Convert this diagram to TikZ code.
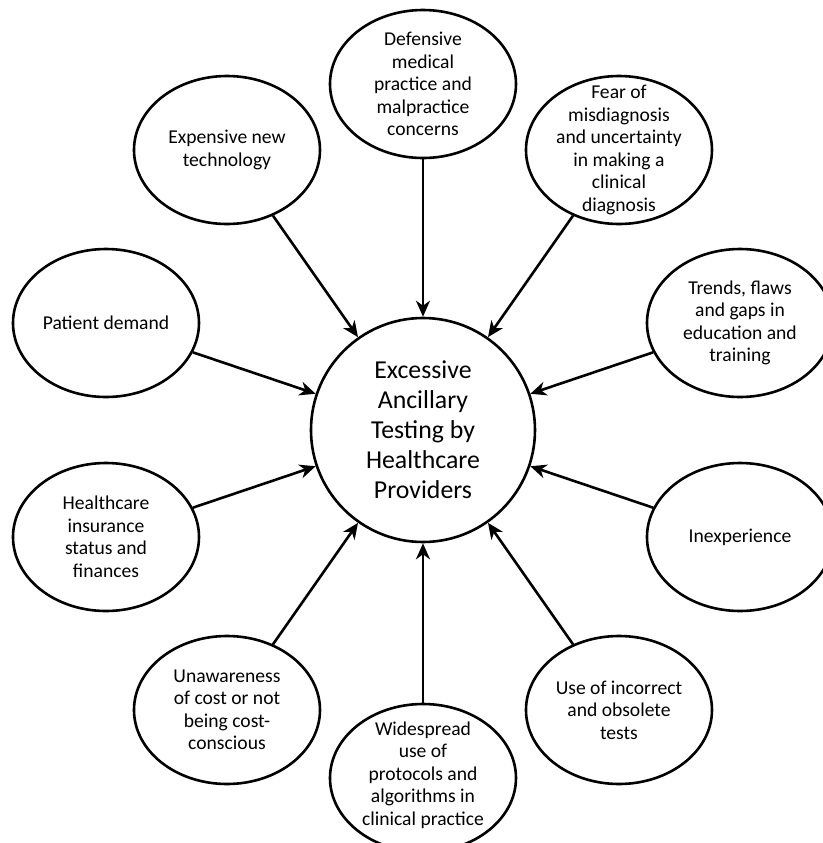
\documentclass[tikz,border=0pt]{standalone}
\usepackage{fontspec}
\setmainfont{Carlito}
\usetikzlibrary{shapes.geometric,arrows.meta}

\begin{document}
\begin{tikzpicture}[x=1pt,y=1pt,
    cause/.style={draw,ellipse,line width=1.3pt,minimum width=93pt,minimum height=74pt,inner sep=0pt},
    txt/.style={align=center,inner sep=0pt,font=\fontsize{9.8}{11.25}\selectfont},
    effect/.style={draw,circle,line width=1.3pt,minimum size=112pt,align=center,font=\fontsize{12.9}{15}\selectfont},
    arr/.style={-{Stealth[length=8pt,width=7pt,inset=2.5pt]},line width=1.3pt}]
  \clip (-211.5,215) rectangle (200,-206.5);
  \node[effect] (test) at (0,0) {Excessive\\Ancillary\\Testing by\\Healthcare\\Providers};

  \node[cause] (defensive) at (0,173) {};
  \node[cause] (expensive) at (-98,140) {};
  \node[cause] (fear) at (98,140) {};
  \node[cause] (patient) at (-158.5,53.5) {};
  \node[cause] (trends) at (158.5,53.5) {};
  \node[cause] (insurance) at (-158.5,-53.5) {};
  \node[cause] (inexp) at (158.5,-53.5) {};
  \node[cause] (unaware) at (-98,-140) {};
  \node[cause] (obsolete) at (98,-140) {};
  \node[cause] (protocols) at (0,-174) {};

  \node[txt] (defensive-t) at (defensive) {Defensive\\medical\\practice and\\malpractice\\concerns};
  \node[txt] (expensive-t) at (expensive) {Expensive new\\technology};
  \node[txt] (fear-t) at (fear) {Fear of\\misdiagnosis\\and uncertainty\\in making a\\clinical\\diagnosis};
  \node[txt] (patient-t) at (patient) {Patient demand};
  \node[txt] (trends-t) at (trends) {Trends, flaws\\and gaps in\\education and\\training};
  \node[txt] (insurance-t) at (insurance) {Healthcare\\insurance\\status and\\finances};
  \node[txt] (inexp-t) at (inexp) {Inexperience};
  \node[txt] (unaware-t) at (unaware) {Unawareness\\of cost or not\\being cost-\\conscious};
  \node[txt] (obsolete-t) at (obsolete) {Use of incorrect\\and obsolete\\tests};
  \node[txt] (protocols-t) at ([yshift=1.5pt]protocols) {Widespread\\use of\\protocols and\\algorithms in\\clinical practice};

  \foreach \c in {defensive,expensive,fear,patient,trends,insurance,inexp,unaware,obsolete,protocols}
    \draw[arr] (\c) -- (test);
\end{tikzpicture}
\end{document}
